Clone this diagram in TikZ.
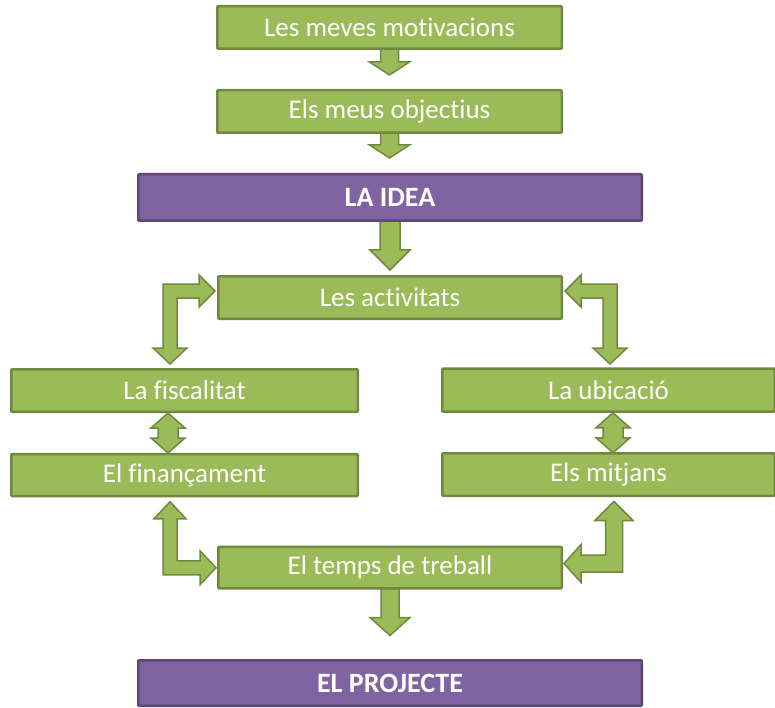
\documentclass[tikz,border=0pt]{standalone}
\usepackage{fontspec}
\setmainfont{Carlito}[RawFeature={-liga;-clig;-dlig;-calt;-hlig}]
\usetikzlibrary{calc,backgrounds}
\definecolor{gfill}{HTML}{9BBB59}
\definecolor{gline}{HTML}{71893F}
\definecolor{pfill}{HTML}{8064A2}
\definecolor{pline}{HTML}{5C4776}
\newcommand{\zk}{\kern0pt}
\begin{document}
\begin{tikzpicture}[x=1pt,y=-1pt,
  gbox/.style={draw=gline, fill=gfill, line width=2.5pt, rounded corners=1pt,
    text=white, inner sep=0pt, font=\fontsize{27}{30}\selectfont},
  pbox/.style={draw=pline, fill=pfill, line width=2.5pt, rounded corners=1pt,
    text=white, inner sep=0pt, font=\bfseries\fontsize{28}{32}\selectfont},
  blockarrow/.style={draw=gline, fill=gfill, line width=1.5pt, line join=miter}]
\useasboundingbox (0,0) rectangle (775,708);

\node[gbox, minimum width=344.5pt, minimum height=42.5pt] (m1) at (389.5,27.5) {Les meves mot\zk ivacions};
\node[gbox, minimum width=344.5pt, minimum height=42.5pt] (m2) at (389.5,111.5) {Els meus object\zk ius};
\node[pbox, minimum width=503.5pt, minimum height=46.5pt] (idea) at (390,197.5) {LA IDEA};
\node[gbox, minimum width=343.5pt, minimum height=42.5pt] (act) at (390,297.5) {Les act\zk ivitats};
\node[gbox, minimum width=346.5pt, minimum height=42.5pt] (fis) at (184.5,390.5) {La f\zk iscalitat};
\node[gbox, minimum width=346.5pt, minimum height=42pt] (fin) at (184.5,475) {El f\zk inançament};
\node[gbox, minimum width=332.5pt, minimum height=43pt] (ubi) at (608.5,390) {La ubicació};
\node[gbox, minimum width=332.5pt, minimum height=42.5pt] (mit) at (608.5,474.5) {Els mitjans};
\node[gbox, minimum width=343.5pt, minimum height=41.5pt] (temps) at (390,567.5) {El temps de treball};
\node[pbox, minimum width=503.5pt, minimum height=45.5pt] (proj) at (390,683) {EL PROJECTE};

\begin{pgfonlayer}{background}
% straight down arrows
\draw[blockarrow] ($(m1.south)+(-9,-1)$) -- ++(0,13) -- ++(-11,0) -- ++(20,13) -- ++(20,-13) -- ++(-11,0) -- ++(0,-13) -- cycle;
\draw[blockarrow] ($(m2.south)+(-9,-1)$) -- ++(0,12) -- ++(-11,0) -- ++(20,13) -- ++(20,-13) -- ++(-11,0) -- ++(0,-12) -- cycle;
\draw[blockarrow] ($(idea.south)+(-10,-1)$) -- ++(0,29) -- ++(-10,0) -- ++(20,20) -- ++(20,-20) -- ++(-10,0) -- ++(0,-29) -- cycle;
\draw[blockarrow] ($(temps.south)+(-9,-1)$) -- ++(0,29) -- ++(-11,0) -- ++(20,18) -- ++(20,-18) -- ++(-11,0) -- ++(0,-29) -- cycle;
% double arrows
\draw[blockarrow] ($(fis.south)+(-16.5,0)$) -- ++(17,15) -- ++(-7,0) -- ++(0,10) -- ++(7,0) -- ++(-17,15) -- ++(-17,-15) -- ++(7,0) -- ++(0,-10) -- ++(-7,0) -- cycle;
\draw[blockarrow] ($(ubi.south)+(4.5,0)$) -- ++(17,15) -- ++(-7,0) -- ++(0,10) -- ++(7,0) -- ++(-17,15) -- ++(-17,-15) -- ++(7,0) -- ++(0,-10) -- ++(-7,0) -- cycle;
% bent arrows
\draw[blockarrow] ($(act.west)+(-2,-6.5)$) -- ++(-16,16) -- ++(0,-9) -- ++(-22,0) -- ++(0,50) -- ++(10,0) -- ++(-17,16) -- ++(-17,-16) -- ++(10,0) -- ++(0,-64) -- ++(36,0) -- ++(0,-9) -- cycle;
\draw[blockarrow] ($(act.east)+(2,-6.5)$) -- ++(16,16) -- ++(0,-9) -- ++(22,0) -- ++(0,50) -- ++(-10,0) -- ++(17,16) -- ++(17,-16) -- ++(-10,0) -- ++(0,-64) -- ++(-36,0) -- ++(0,-9) -- cycle;
\draw[blockarrow] ($(fin.south)+(-14.5,4.5)$) -- ++(16,17) -- ++(-9,0) -- ++(0,42) -- ++(23,0) -- ++(0,-10) -- ++(16,17) -- ++(-16,17) -- ++(0,-10) -- ++(-37,0) -- ++(0,-56) -- ++(-9,0) -- cycle;
\draw[blockarrow] ($(mit.south)+(5.5,4.5)$) -- ++(19,19) -- ++(-10.5,0) -- ++(0,51.5) -- ++(-41.5,0) -- ++(0,10.5) -- ++(-17,-19) -- ++(17,-19) -- ++(0,10.5) -- ++(24.5,0) -- ++(0,-34.5) -- ++(-10.5,0) -- cycle;
\end{pgfonlayer}
\end{tikzpicture}
\end{document}
